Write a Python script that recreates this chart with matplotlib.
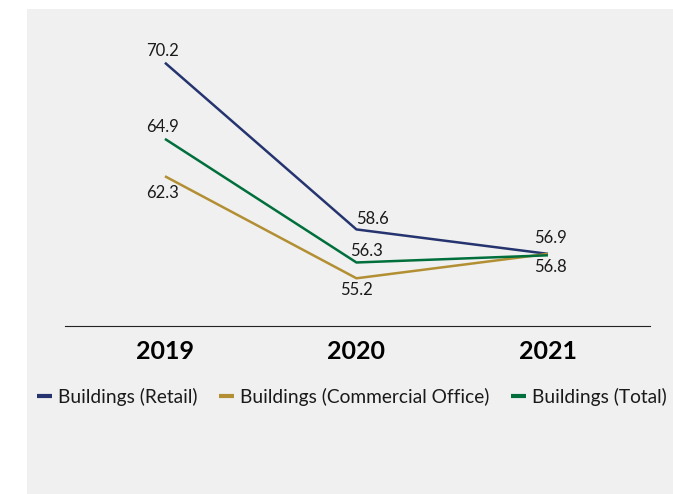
import matplotlib
matplotlib.use("Agg")
import matplotlib.pyplot as plt
from matplotlib.patches import Rectangle

plt.rcParams['font.family'] = ['Lato', 'DejaVu Sans']

years = ['2019', '2020', '2021']
retail = [70.2, 58.6, 56.9]
office = [62.3, 55.2, 56.9]
total = [64.9, 56.3, 56.8]

names = ['Buildings (Retail)', 'Buildings (Commercial Office)', 'Buildings (Total)']
colors = ['#25346f', '#b38f34', '#006f3c']

# label offsets in pixels (dx, dy) per series / point
offsets = {
    0: [(-2, 12), (16, 10.5), (2.5, 15.5)],
    1: [(-2, -17), (0, -12), None],
    2: [(-2, 11.5), (10, 11.5), (2.5, -11.5)],
}
label_vals = {
    0: retail,
    1: office,
    2: total,
}

W, H = 673, 494
fig = plt.figure(figsize=(W / 100, H / 100), dpi=100)
fig.patch.set_facecolor('white')
fig.add_artist(Rectangle((27 / W, 0), 1 - 27 / W, 1 - 9 / H, transform=fig.transFigure,
                         facecolor='#f0f0f0', edgecolor='none', zorder=-10))

ax = fig.add_axes([65 / W, 1 - 326 / H, (650 - 65) / W, (326 - 10) / H])
ax.set_facecolor('none')

xs = range(len(years))
series = [retail, office, total]
for i, (vals, name, c) in enumerate(zip(series, names, colors)):
    ax.plot(xs, vals, color=c, lw=1.8, label=name, solid_capstyle='butt')
    for j, v in enumerate(label_vals[i]):
        off = offsets[i][j]
        if off is None:
            continue
        ax.annotate(f'{v:.1f}', (j, v), xytext=(off[0] * 0.72, off[1] * 0.72),
                    textcoords='offset points', ha='center', va='center',
                    fontsize=12, color='#1a1a1a')

ax.set_xlim(-0.522, 2.533)
ax.set_ylim(51.88, 73.87)
for s in ['top', 'left', 'right']:
    ax.spines[s].set_visible(False)
ax.spines['bottom'].set_linewidth(0.8)
ax.spines['bottom'].set_color('#222222')
ax.set_yticks([])
ax.set_xticks(list(xs))
ax.set_xticklabels(years, fontsize=18, fontweight='bold', color='black')
ax.tick_params(axis='x', length=0, pad=10)

handles, labels = ax.get_legend_handles_labels()
leg = fig.legend(handles, labels, loc='center left', bbox_to_anchor=(37 / W, 1 - 397 / H),
                 ncol=3, frameon=False, fontsize=13.8, handlelength=0.8,
                 handletextpad=0.31, columnspacing=1.1, borderpad=0, borderaxespad=0)
for line in leg.get_lines():
    line.set_linewidth(3)
for t in leg.get_texts():
    t.set_color('#1a1a1a')

fig.savefig('out.png', dpi=100)
